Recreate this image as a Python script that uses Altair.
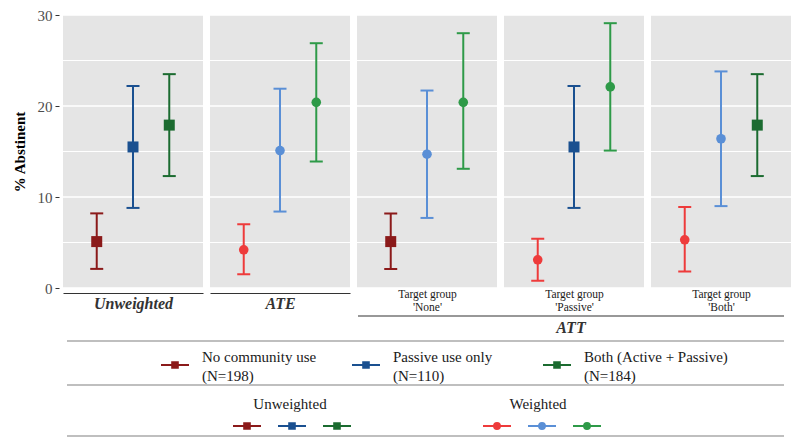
import altair as alt
import pandas as pd

SERIF = "Liberation Serif"

# ---------------- data ----------------
PANELS = ["Unweighted", "ATE", "ATT None", "ATT Passive", "ATT Both"]
PANEL_TITLES = ["Unweighted", "ATE",
                ["Target group", "'None'"],
                ["Target group", "'Passive'"],
                ["Target group", "'Both'"]]
GROUPS = ["None", "Passive", "Both"]
LEGEND_LINE1 = ["No community use", "Passive use only", "Both (Active + Passive)"]
LEGEND_LINE2 = ["(N=198)", "(N=110)", "(N=184)"]

EST = {
    "Unweighted":  [5.1, 15.5, 17.9],
    "ATE":         [4.2, 15.1, 20.4],
    "ATT None":    [5.1, 14.7, 20.4],
    "ATT Passive": [3.1, 15.5, 22.1],
    "ATT Both":    [5.3, 16.4, 17.9],
}
LO = {
    "Unweighted":  [2.1, 8.8, 12.3],
    "ATE":         [1.5, 8.4, 13.9],
    "ATT None":    [2.1, 7.7, 13.1],
    "ATT Passive": [0.8, 8.8, 15.1],
    "ATT Both":    [1.8, 9.0, 12.3],
}
HI = {
    "Unweighted":  [8.2, 22.2, 23.5],
    "ATE":         [7.0, 21.9, 26.9],
    "ATT None":    [8.2, 21.7, 28.0],
    "ATT Passive": [5.4, 22.2, 29.1],
    "ATT Both":    [8.9, 23.8, 23.5],
}
WEIGHTED = {
    "Unweighted":  [0, 0, 0],
    "ATE":         [1, 1, 1],
    "ATT None":    [0, 1, 1],
    "ATT Passive": [1, 0, 1],
    "ATT Both":    [1, 1, 0],
}
UNW_COLORS = ["#8B1A1A", "#1A5090", "#1B6B30"]
WTD_COLORS = ["#EE3B3B", "#5A8FD6", "#2E9A48"]
GRID_MAJOR = [0, 10, 20, 30]
GRID_MINOR = [5, 15, 25]

rows = []
for p in PANELS:
    for j, g in enumerate(GROUPS):
        w = WEIGHTED[p][j]
        rows.append({
            "panel": p, "group": g, "est": EST[p][j], "lo": LO[p][j], "hi": HI[p][j],
            "weighted": w, "col": (WTD_COLORS if w else UNW_COLORS)[j],
        })
df = pd.DataFrame(rows)
grid_major = pd.DataFrame({"v": GRID_MAJOR})
grid_minor = pd.DataFrame({"v": GRID_MINOR})

# ---------------- layout constants ----------------
PW, PH, GAP = 140, 273, 7
YSCALE = alt.Scale(domain=[0, 30], nice=False, zero=True)


def y_axis_props(visible=True):
    c = "#4D4D4D" if visible else "transparent"
    return dict(values=GRID_MAJOR, grid=False, domain=False, ticks=True, tickSize=4,
                tickColor="#333333" if visible else "transparent", tickWidth=1,
                labelFont=SERIF, labelFontSize=15, labelColor=c, labelPadding=3,
                title="% Abstinent", titleFont=SERIF, titleFontSize=15,
                titleFontWeight="bold", titleColor="black" if visible else "transparent",
                titlePadding=10, offset=4)


def x_axis(i):
    if i < 2:
        return alt.Axis(labels=False, ticks=False, domain=True, domainColor="#333333",
                        domainWidth=1.2, offset=5, grid=False, title=PANEL_TITLES[i],
                        titleFont=SERIF, titleFontSize=16, titleFontStyle="italic",
                        titleFontWeight="bold", titleColor="#333333", titlePadding=2)
    return alt.Axis(labels=False, ticks=False, domain=False, grid=False,
                    title=PANEL_TITLES[i], titleFont=SERIF, titleFontSize=11.5,
                    titleFontWeight="normal", titleColor="#1A1A1A",
                    titleLineHeight=13, titlePadding=0)


def panel(i):
    d = df[df.panel == PANELS[i]]
    yax = alt.Axis(**y_axis_props()) if i == 0 else None

    def Y(f):
        return alt.Y(f"{f}:Q", scale=YSCALE, axis=yax)

    X = alt.X("group:N", scale=alt.Scale(type="point", domain=GROUPS, padding=0.93),
              axis=x_axis(i))
    col = alt.Color("col:N", scale=None)

    gmaj = alt.Chart(grid_major).mark_rule(color="white", strokeWidth=1.4).encode(y=Y("v"))
    gmin = alt.Chart(grid_minor).mark_rule(color="white", strokeWidth=1.0).encode(y=Y("v"))
    base = alt.Chart(d)
    bars = base.mark_rule(strokeWidth=2).encode(x=X, y=Y("lo"), y2="hi:Q", color=col)
    cap_lo = base.mark_tick(size=13, thickness=2, opacity=1).encode(x=X, y=Y("lo"), color=col)
    cap_hi = base.mark_tick(size=13, thickness=2, opacity=1).encode(x=X, y=Y("hi"), color=col)
    sq = base.transform_filter("datum.weighted == 0").mark_point(
        shape="square", filled=True, opacity=1, size=121).encode(x=X, y=Y("est"), color=col)
    ci = base.transform_filter("datum.weighted == 1").mark_point(
        shape="circle", filled=True, opacity=1, size=92).encode(x=X, y=Y("est"), color=col)
    return alt.layer(gmaj, gmin, bars, cap_lo, cap_hi, sq, ci).properties(
        width=PW, height=PH, view=alt.ViewBackground(fill="#E5E5E5", strokeWidth=0))


top = alt.hconcat(*[panel(i) for i in range(5)], spacing=GAP, bounds="flush")

# ---------------- bottom: strip labels + legend ----------------
TOTAL_W = 5 * PW + 4 * GAP
BH = 122
TOP0 = 315          # page y of bottom block's top
LEFT0 = 63          # page x of plot left


def py(v):
    return v - TOP0


def px(v):
    return v - LEFT0


SQ_PATH = "M-1,0H1M-0.2,-0.2H0.2V0.2H-0.2Z"
CI_PATH = "M-1,0H1M0.21,0A0.21,0.21 0 1,1 -0.21,0A0.21,0.21 0 1,1 0.21,0Z"

dummy = alt.Chart(pd.DataFrame({"v": [0]})).mark_point(opacity=0).encode(
    y=alt.Y("v:Q", scale=YSCALE, axis=alt.Axis(labelFlush=True, **y_axis_props(False))))

one = pd.DataFrame({"a": [0]})
att_rule = alt.Chart(one).mark_rule(color="#333333", strokeWidth=1.2).encode(
    x=alt.value(px(358)), x2=alt.value(px(784)), y=alt.value(py(314)))
att_text = alt.Chart(one).mark_text(text="ATT", font=SERIF, fontSize=16, fontStyle="italic",
                                    fontWeight="bold", color="#333333").encode(
    x=alt.value(px(571)), y=alt.value(py(326)))
grey_rules = [
    alt.Chart(one).mark_rule(color="#AAAAAA", strokeWidth=1.5).encode(
        x=alt.value(px(67)), x2=alt.value(px(784)), y=alt.value(py(yy)))
    for yy in (339, 383, 434)
]

leg1 = pd.DataFrame({"k": GROUPS, "c": UNW_COLORS, "l1": LEGEND_LINE1, "l2": LEGEND_LINE2})
X1 = alt.X("k:N", scale=alt.Scale(type="point", domain=GROUPS, range=[px(175), px(557)],
                                  padding=0), axis=None)
g1 = alt.Chart(leg1).mark_point(shape=SQ_PATH, size=784, filled=True, opacity=1,
                                strokeWidth=2).encode(
    x=X1, y=alt.value(py(363)), color=alt.Color("c:N", scale=None),
    stroke=alt.Stroke("c:N", scale=None))
t1 = alt.Chart(leg1).mark_text(align="left", baseline="middle", dx=27, font=SERIF,
                               fontSize=15, color="#1A1A1A").encode(
    x=X1, y=alt.value(py(355)), text="l1:N")
t2 = alt.Chart(leg1).mark_text(align="left", baseline="middle", dx=27, font=SERIF,
                               fontSize=15, color="#1A1A1A").encode(
    x=X1, y=alt.value(py(374)), text="l2:N")

legU = pd.DataFrame({"k": GROUPS, "c": UNW_COLORS})
legW = pd.DataFrame({"k": GROUPS, "c": WTD_COLORS})
XU = alt.X("k:N", scale=alt.Scale(type="point", domain=GROUPS, range=[px(247), px(337)],
                                  padding=0), axis=None)
XW = alt.X("k:N", scale=alt.Scale(type="point", domain=GROUPS, range=[px(497), px(587)],
                                  padding=0), axis=None)
gU = alt.Chart(legU).mark_point(shape=SQ_PATH, size=784, filled=True, opacity=1,
                                strokeWidth=2).encode(
    x=XU, y=alt.value(py(424)), color=alt.Color("c:N", scale=None),
    stroke=alt.Stroke("c:N", scale=None))
gW = alt.Chart(legW).mark_point(shape=CI_PATH, size=784, filled=True, opacity=1,
                                strokeWidth=2).encode(
    x=XW, y=alt.value(py(424)), color=alt.Color("c:N", scale=None),
    stroke=alt.Stroke("c:N", scale=None))
tU = alt.Chart(one).mark_text(text="Unweighted", font=SERIF, fontSize=15,
                              color="#1A1A1A").encode(x=alt.value(px(290)), y=alt.value(py(402)))
tW = alt.Chart(one).mark_text(text="Weighted", font=SERIF, fontSize=15,
                              color="#1A1A1A").encode(x=alt.value(px(538)), y=alt.value(py(402)))

bottom = alt.layer(dummy, att_rule, att_text, *grey_rules, g1, t1, t2, gU, gW, tU, tW).resolve_scale(
    x="independent").properties(width=TOTAL_W, height=BH,
                                view=alt.ViewBackground(fill="white", strokeWidth=0))

chart = alt.vconcat(top, bottom, spacing=2).properties(
    padding={"left": 4, "top": 0, "right": 0, "bottom": 0},
    background="white",
).configure_view(strokeWidth=0)

chart.save("out.html", embed_options={"renderer": "svg", "actions": False})
